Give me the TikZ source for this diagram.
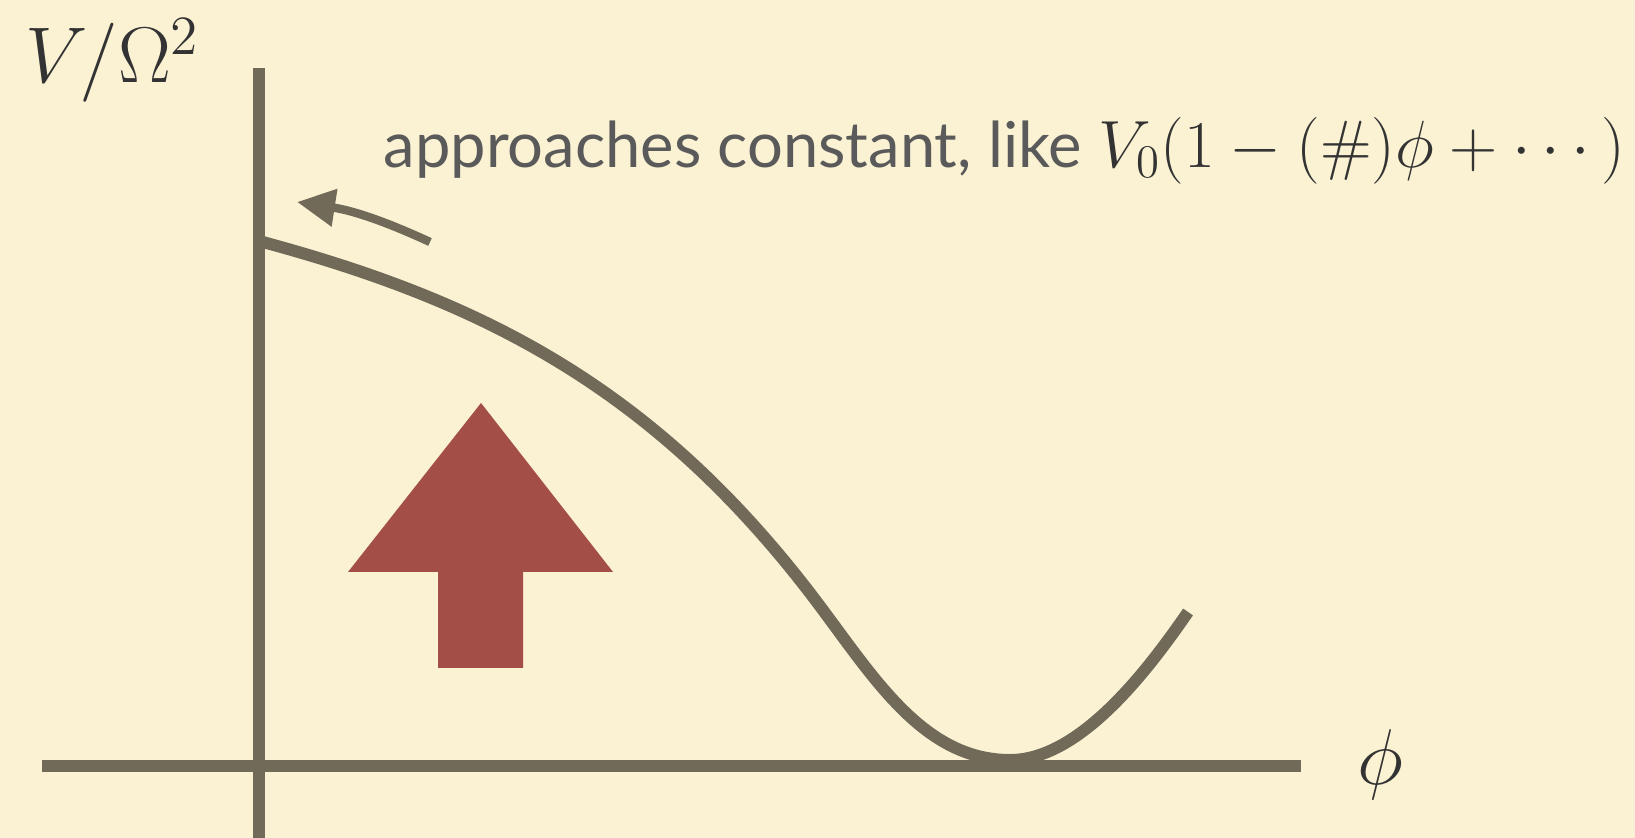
\RequirePackage{fix-cm}
\documentclass[tikz,border=0pt]{standalone}
\usepackage{amsmath,amssymb}
\usepackage[no-math]{fontspec}
\usepackage{tikz}
\usetikzlibrary{arrows.meta,positioning,calc}
\setsansfont{Lato}
\definecolor{paper}{HTML}{FAF2D3}
\definecolor{axisgray}{HTML}{716A59}
\definecolor{textgray}{HTML}{5A5A5A}
\definecolor{mathink}{HTML}{333333}
\definecolor{upred}{HTML}{A34F48}
\tikzset{
  axisline/.style={draw=axisgray,line width=3.6pt},
  potline/.style={draw=axisgray,line width=3.4pt},
  hintarr/.style={-{Triangle[length=3.8mm,width=3.6mm]},draw=axisgray,line width=2.4pt},
  axislabel/.style={text=mathink,font=\fontsize{22.5}{27}\selectfont,inner sep=0pt},
  note/.style={text=textgray,font=\sffamily\fontsize{18}{22}\selectfont,inner sep=0pt}
}

\begin{document}
\begin{tikzpicture}[x=1cm,y=1cm]
  \fill[paper] (0,0) rectangle (16.35,8.38);
  \useasboundingbox (0,0) rectangle (16.35,8.38);
  % axes
  \draw[axisline] (2.59,7.70) -- (2.59,0);
  \draw[axisline] (0.42,0.72) -- (13.01,0.72);
  \node[axislabel,anchor=base west] (vlabel) at (0.25,7.55) {$V/\Omega^2$};
  \node[axislabel,anchor=base] (philabel) at (13.80,0.53) {$\phi$};
  % potential
  \draw[potline] (2.59,5.97) .. controls (4.79,5.38) and (6.50,4.53) .. (8.10,2.45)
    .. controls (8.70,1.67) and (9.20,0.78) .. (10.10,0.78)
    .. controls (10.80,0.78) and (11.48,1.68) .. (11.88,2.26);
  % plateau hint
  \coordinate (hinttail) at (4.30,5.96);
  \coordinate (hinttip) at (2.97,6.36);
  \draw[hintarr] (hinttail) to[bend right=8] (hinttip);
  \node[note,anchor=base west] (hint) at (3.83,6.70)
    {approaches constant, like {\fontsize{19}{22}\selectfont\color{mathink}$V_0(1-(\#)\phi+\cdots)$}};
  % uplift arrow
  \fill[upred] (4.81,4.35) -- (6.13,2.66) -- (5.23,2.66) -- (5.23,1.70)
    -- (4.38,1.70) -- (4.38,2.66) -- (3.48,2.66) -- cycle;
\end{tikzpicture}
\end{document}
